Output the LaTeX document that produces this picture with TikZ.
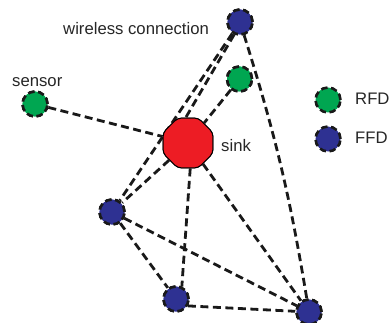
\documentclass[tikz,border=0pt]{standalone}
\usepackage{fontspec}
\setmainfont{Liberation Sans}
\usetikzlibrary{shapes.geometric}
\definecolor{rfdgreen}{RGB}{0,166,81}
\definecolor{ffdblue}{RGB}{46,49,146}
\definecolor{sinkred}{RGB}{237,28,36}
\tikzset{
  link/.style={draw=black!90, line width=2.8pt, dash pattern=on 8pt off 4.5pt},
  mote/.style={circle, inner sep=0pt, minimum size=25pt, draw=black!90,
    line width=2.6pt, dash pattern=on 6.5pt off 3.5pt},
  rfd/.style={mote, fill=rfdgreen},
  ffd/.style={mote, fill=ffdblue},
  sinknode/.style={regular polygon, regular polygon sides=8, inner sep=0pt,
    minimum size=54pt, fill=sinkred, draw=black, line width=1pt,
    rounded corners=4pt},
  lbl/.style={inner sep=0pt, font=\fontsize{16.7}{20}\selectfont, text=black!85}
}
\begin{document}
\begin{tikzpicture}[x=1pt, y=-1pt]
\useasboundingbox (0,0) rectangle (390,323);

% node positions
\coordinate (T) at (240,22);
\coordinate (G) at (239.5,79);
\coordinate (S) at (35,104);
\coordinate (K) at (188,143);
\coordinate (L) at (112,212);
\coordinate (B) at (176,299);
\coordinate (R) at (309,312);

% network nodes
\node[sinknode] (k) at (K) {};
\node[ffd] (t) at (T) {};
\node[rfd] (g) at (G) {};
\node[rfd] (s) at (S) {};
\node[ffd] (l) at (L) {};
\node[ffd] (b) at (B) {};
\node[ffd] (r) at (R) {};

% wireless links
\draw[link] (t) -- (l);
\draw[link] (t.-115) -- (k.95);
\draw[link] (t) to[bend left=4] (r);
\draw[link] (g) -- (k);
\draw[link] (s) -- (k);
\draw[link] (k) -- (l);
\draw[link] (k.-85) -- (b.65);
\draw[link] (k) -- (r);
\draw[link] (l) -- (b);
\draw[link] (l) -- (r);
\draw[link] (b.-30) -- (r);

% nodes again, over the link ends
\node[sinknode] at (K) {};
\node[ffd] at (T) {};
\node[rfd] at (G) {};
\node[rfd] at (S) {};
\node[ffd] at (L) {};
\node[ffd] at (B) {};
\node[ffd] at (R) {};

% labels
\node[lbl, anchor=base west] (wl) at (63,35) {wireless connection};
\node[lbl, anchor=base west] (sl) at (12,87) {sensor};
\node[lbl, anchor=base west] (kl) at (221,151) {sink};

% legend
\node[rfd] (lr) at (328,100) {};
\node[ffd] (lf) at (328,139) {};
\node[lbl, anchor=base west] (lrt) at (355,105) {RFD};
\node[lbl, anchor=base west] (lft) at (355,143) {FFD};
\end{tikzpicture}
\end{document}
